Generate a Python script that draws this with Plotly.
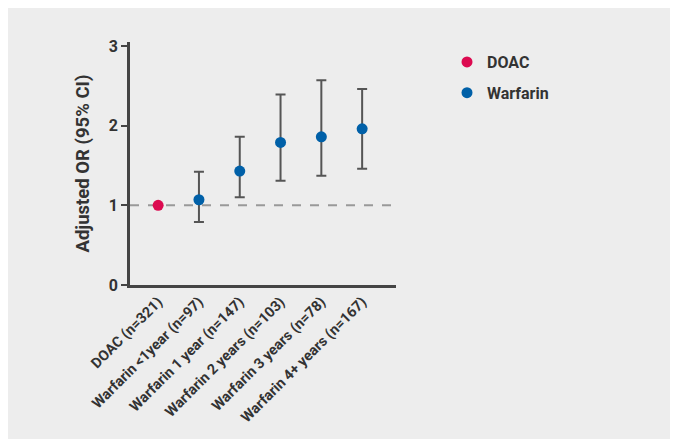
import plotly.graph_objects as go

categories = ["DOAC (n=321)", "Warfarin <1year (n=97)", "Warfarin 1 year (n=147)",
              "Warfarin 2 years (n=103)", "Warfarin 3 years (n=78)", "Warfarin 4+ years (n=167)"]
doac_cat = categories[:1]
doac_or = [1.0]
warf_cat = categories[1:]
warf_or = [1.07, 1.43, 1.79, 1.86, 1.96]
warf_hi = [1.42, 1.86, 2.39, 2.57, 2.46]
warf_lo = [0.79, 1.10, 1.31, 1.37, 1.46]

W, H = 678, 439
L, T = 122, 34
pw, ph = 266, 243
R, B = W - L - pw, H - T - ph

def px(x):
    return (x - L) / pw

def py(y):
    return (T + ph - y) / ph

fig = go.Figure()
err_col = "#555555"
fig.add_trace(go.Scatter(
    x=doac_cat, y=doac_or, mode="markers", name="DOAC", legendgroup="a",
    marker=dict(color="#dc0a50", size=11),
))
fig.add_trace(go.Scatter(
    x=warf_cat, y=warf_or, mode="markers", name="Warfarin", legendgroup="b",
    marker=dict(color="#0060a8", size=11),
    error_y=dict(type="data", symmetric=False,
                 array=[h - v for h, v in zip(warf_hi, warf_or)],
                 arrayminus=[v - l for l, v in zip(warf_lo, warf_or)],
                 color=err_col, thickness=2, width=5),
))

fig.add_shape(type="line", xref="paper", yref="y", x0=0, x1=1, y0=1, y1=1,
              line=dict(color="#999999", width=2, dash="dash"), layer="below")

fig.update_layout(
    width=W, height=H, margin=dict(l=L, r=R, t=T, b=B, autoexpand=False),
    paper_bgcolor="#ededed", plot_bgcolor="rgba(0,0,0,0)",
    font=dict(family="Roboto", color="#333333"),
    showlegend=True,
    legend=dict(x=px(439), y=py(37), xanchor="left", yanchor="top",
                bgcolor="rgba(0,0,0,0)", tracegroupgap=7, traceorder="grouped",
                font=dict(size=16, family="Roboto", color="#333333", weight="bold"),
                itemwidth=30),
    xaxis=dict(type="category", categoryorder="array", categoryarray=categories,
               range=[-0.69, 5.83], showgrid=False, zeroline=False,
               showline=True, linecolor="#444444", linewidth=2.5,
               ticks="", tickangle=-45,
               tickfont=dict(size=14.5, family="Roboto", color="#333333", weight="bold")),
    yaxis=dict(range=[0, 3.05], tickvals=[0, 1, 2, 3], showgrid=False, zeroline=False,
               showline=True, linecolor="#444444", linewidth=2.5,
               ticks="outside", ticklen=6, tickwidth=2, tickcolor="#444444",
               tickfont=dict(size=16, family="Roboto", color="#333333", weight="bold"),
               title=dict(text="Adjusted OR (95% CI)", standoff=15,
                          font=dict(size=18.5, family="Roboto", color="#333333", weight="bold"))),
)

fig.write_html("out.html")
